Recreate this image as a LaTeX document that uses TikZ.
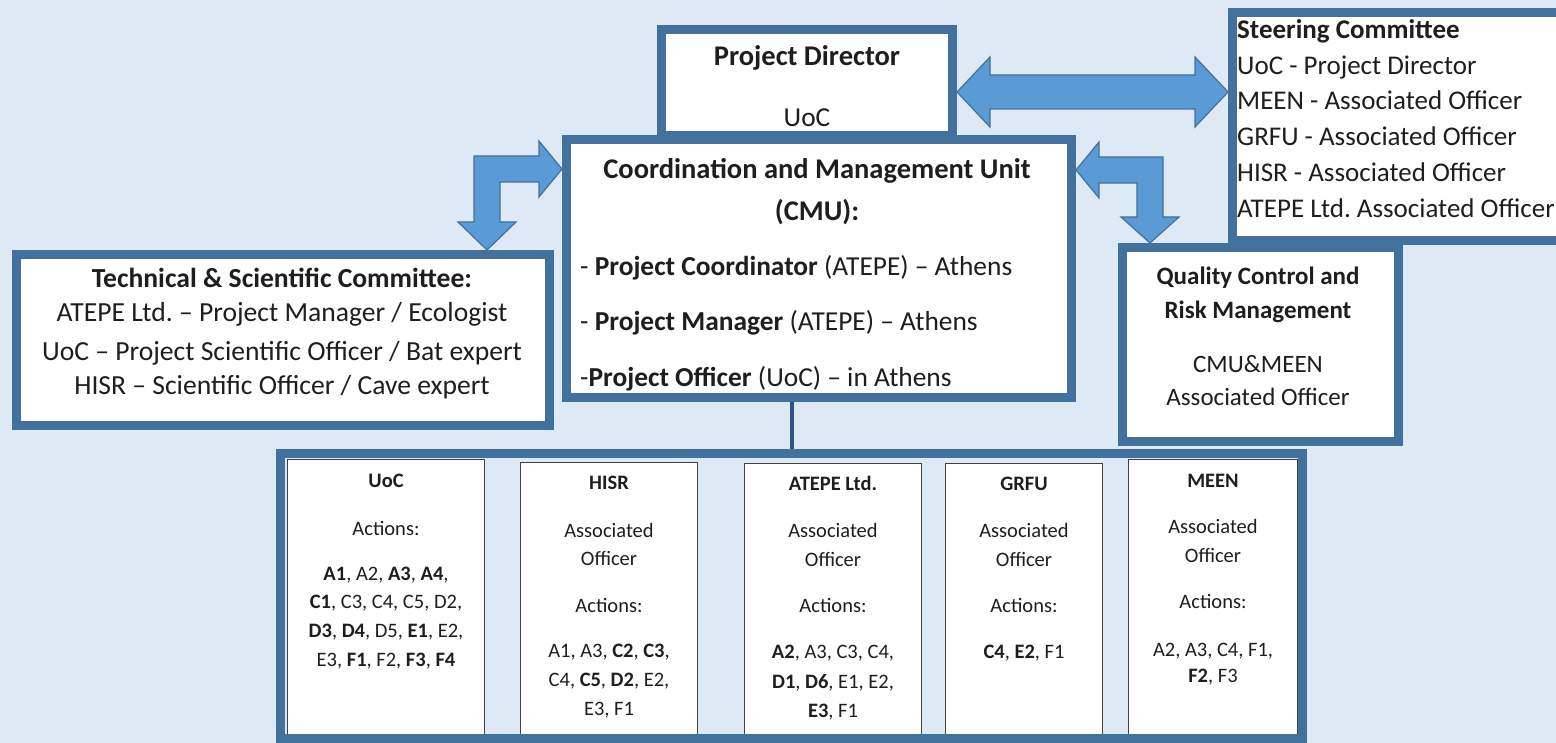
\documentclass[tikz,border=0pt]{standalone}
\usepackage{fontspec}
\setmainfont{Carlito}
\usetikzlibrary{calc}
\definecolor{bgc}{RGB}{221,233,245}
\definecolor{brd}{RGB}{65,113,156}
\definecolor{arf}{RGB}{91,155,213}
\definecolor{lnc}{RGB}{46,86,128}
\definecolor{txt}{RGB}{30,30,30}
\frenchspacing
\begin{document}
\begin{tikzpicture}[x=1pt,y=-1pt,
 bigbox/.style={draw=brd, line width=9pt, fill=white, rectangle, inner sep=0pt, anchor=north west},
 smallbox/.style={draw=black!75, line width=1.4pt, fill=white, rectangle, inner sep=0pt, anchor=north west},
 blockarrow/.style={fill=arf, draw=brd, line width=1.2pt, line join=miter},
 tx/.style={inner sep=0pt, anchor=base, text=txt},
 txl/.style={inner sep=0pt, anchor=base west, text=txt},
 fhead/.style={font=\fontsize{28.5}{34}\selectfont\bfseries},
 fbody/.style={font=\fontsize{27.4}{32}\selectfont},
 fsc/.style={font=\fontsize{27}{31}\selectfont},
 fts/.style={font=\fontsize{27.6}{31}\selectfont},
 fqc/.style={font=\fontsize{25}{30}\selectfont},
 fsm/.style={font=\fontsize{20.5}{25}\selectfont},
]
\fill[bgc] (0,0) rectangle (1556,743);
\useasboundingbox (0,0) rectangle (1556,743);

% main boxes
\node[bigbox, minimum width=291pt, minimum height=106pt] (pd) at (657,25) {};
\node[bigbox, minimum width=333pt, minimum height=228pt] (sc) at (1228,8) {};
\node[bigbox, minimum width=505pt, minimum height=258pt] (cmu) at (562,135) {};
\node[bigbox, minimum width=533pt, minimum height=171pt] (tsc) at (12,250) {};
\node[bigbox, minimum width=276pt, minimum height=194pt] (qc) at (1118,243) {};

% block arrows
\coordinate (a1) at ($(pd.north east)+(0,67)$);
\coordinate (a2) at ($(sc.north west)+(0,84)$);
\draw[blockarrow] (a1) -- ++(33,-35) -- ++(0,18) -- ($(a2)+(-33,-17)$) -- ++(0,-18) -- (a2)
  -- ++(-33,35) -- ++(0,-18) -- ($(a1)+(33,17)$) -- ++(0,18) -- cycle;

\coordinate (l1) at ($(cmu.north west)+(0,34)$);
\coordinate (l2) at ($(tsc.north west)+(475,0)$);
\draw[blockarrow] (l1) -- ($(l1)+(-23,-28)$) -- ($(l1)+(-23,-13)$) -- ($(l2|-l1)+(-13,-13)$)
  -- ($(l2)+(-13,-28)$) -- ($(l2)+(-29,-28)$) -- (l2) -- ($(l2)+(29,-28)$) -- ($(l2)+(13,-28)$)
  -- ($(l2|-l1)+(13,13)$) -- ($(l1)+(-23,13)$) -- ($(l1)+(-23,28)$) -- cycle;

\coordinate (r1) at ($(cmu.north east)+(0,35)$);
\coordinate (r2) at ($(qc.north west)+(32,0)$);
\draw[blockarrow] (r1) -- ($(r1)+(23,-28)$) -- ($(r1)+(23,-13)$) -- ($(r2|-r1)+(13,-13)$)
  -- ($(r2)+(13,-26)$) -- ($(r2)+(29,-26)$) -- (r2) -- ($(r2)+(-29,-26)$) -- ($(r2)+(-13,-26)$)
  -- ($(r2|-r1)+(-13,13)$) -- ($(r1)+(23,13)$) -- ($(r1)+(23,28)$) -- cycle;

% texts of main boxes
\node[tx, fhead] (pdt) at (807,66) {Project Director};
\node[tx, fbody] (pdu) at (807,127) {UoC};

\node[txl, fsc] (sc0) at (1237,39) {\bfseries Steering Committee};
\node[txl, fsc] (sc1) at (1237,75) {UoC - Project Director};
\node[txl, fsc] (sc2) at (1237,110) {MEEN - Associated Officer};
\node[txl, fsc] (sc3) at (1237,146) {GRFU - Associated Officer};
\node[txl, fsc] (sc4) at (1237,182) {HISR - Associated Officer};
\node[txl, fsc] (sc5) at (1237,218) {ATEPE Ltd. Associated Officer};

\node[tx, fhead] (cm0) at (817,179) {Coordination and Management Unit};
\node[tx, fhead] (cm1) at (817,221) {(CMU):};
\node[txl, fbody] (cm2) at (580,276) {- \textbf{Project Coordinator} (ATEPE) – Athens};
\node[txl, fbody] (cm3) at (580,331) {- \textbf{Project Manager} (ATEPE) – Athens};
\node[txl, fbody] (cm4) at (580,386) {-\textbf{Project Officer} (UoC) – in Athens};

\node[tx, fts] (ts0) at (282,288) {\bfseries Technical \& Scientific Committee:};
\node[tx, fts] (ts1) at (282,322) {ATEPE Ltd. – Project Manager / Ecologist};
\node[tx, fts] (ts2) at (282,360) {UoC – Project Scientific Officer / Bat expert};
\node[tx, fts] (ts3) at (282,395) {HISR – Scientific Officer / Cave expert};

\node[tx, fqc] (qc0) at (1258,285) {\bfseries Quality Control and};
\node[tx, fqc] (qc1) at (1258,319) {\bfseries Risk Management};
\node[tx, fqc] (qc2) at (1258,373) {CMU\&MEEN};
\node[tx, fqc] (qc3) at (1258,405) {Associated Officer};

% bottom boxes
\node[smallbox, minimum width=196.6pt, minimum height=279.6pt] (uoc) at (287,459) {};
\node[smallbox, minimum width=176.6pt, minimum height=276.6pt] (hisr) at (520,462) {};
\node[smallbox, minimum width=176.6pt, minimum height=275.6pt] (atepe) at (744,463) {};
\node[smallbox, minimum width=156.6pt, minimum height=275.6pt] (grfu) at (945,463) {};
\node[smallbox, minimum width=168.6pt, minimum height=279.6pt] (meen) at (1128,459) {};

\node[tx, fsm] at (386,487) {\bfseries UoC};
\node[tx, fsm] at (386,535) {Actions:};
\node[tx, fsm] at (386,580) {\textbf{A1}, A2, \textbf{A3}, \textbf{A4},};
\node[tx, fsm] at (386,608) {\textbf{C1}, C3, C4, C5, D2,};
\node[tx, fsm] at (386,637) {\textbf{D3}, \textbf{D4}, D5, \textbf{E1}, E2,};
\node[tx, fsm] at (386,666) {E3, \textbf{F1}, F2, \textbf{F3}, \textbf{F4}};

\node[tx, fsm] at (609,489) {\bfseries HISR};
\node[tx, fsm] at (609,537) {Associated};
\node[tx, fsm] at (609,565) {Officer};
\node[tx, fsm] at (609,612) {Actions:};
\node[tx, fsm] at (609,657) {A1, A3, \textbf{C2}, \textbf{C3},};
\node[tx, fsm] at (609,686) {C4, \textbf{C5}, \textbf{D2}, E2,};
\node[tx, fsm] at (609,715) {E3, F1};

\node[tx, fsm] at (833,490) {\bfseries ATEPE Ltd.};
\node[tx, fsm] at (833,537) {Associated};
\node[tx, fsm] at (833,566) {Officer};
\node[tx, fsm] at (833,612) {Actions:};
\node[tx, fsm] at (833,658) {\textbf{A2}, A3, C3, C4,};
\node[tx, fsm] at (833,688) {\textbf{D1}, \textbf{D6}, E1, E2,};
\node[tx, fsm] at (833,717) {\textbf{E3}, F1};

\node[tx, fsm] at (1024,490) {\bfseries GRFU};
\node[tx, fsm] at (1024,537) {Associated};
\node[tx, fsm] at (1024,566) {Officer};
\node[tx, fsm] at (1024,612) {Actions:};
\node[tx, fsm] at (1024,658) {\textbf{C4}, \textbf{E2}, F1};

\node[tx, fsm] at (1213,487) {\bfseries MEEN};
\node[tx, fsm] at (1213,533) {Associated};
\node[tx, fsm] at (1213,562) {Officer};
\node[tx, fsm] at (1213,608) {Actions:};
\node[tx, fsm] at (1213,656) {A2, A3, C4, F1,};
\node[tx, fsm] at (1213,682) {\textbf{F2}, F3};

% container
\node[bigbox, fill=none, minimum width=1022pt, minimum height=285pt] (cont) at (276,449) {};

% connector
\coordinate (cm) at ($(cmu.south west)+(230,0)$);
\draw[lnc, line width=4pt] (cm) -- (cm |- cont.north);
\end{tikzpicture}
\end{document}
